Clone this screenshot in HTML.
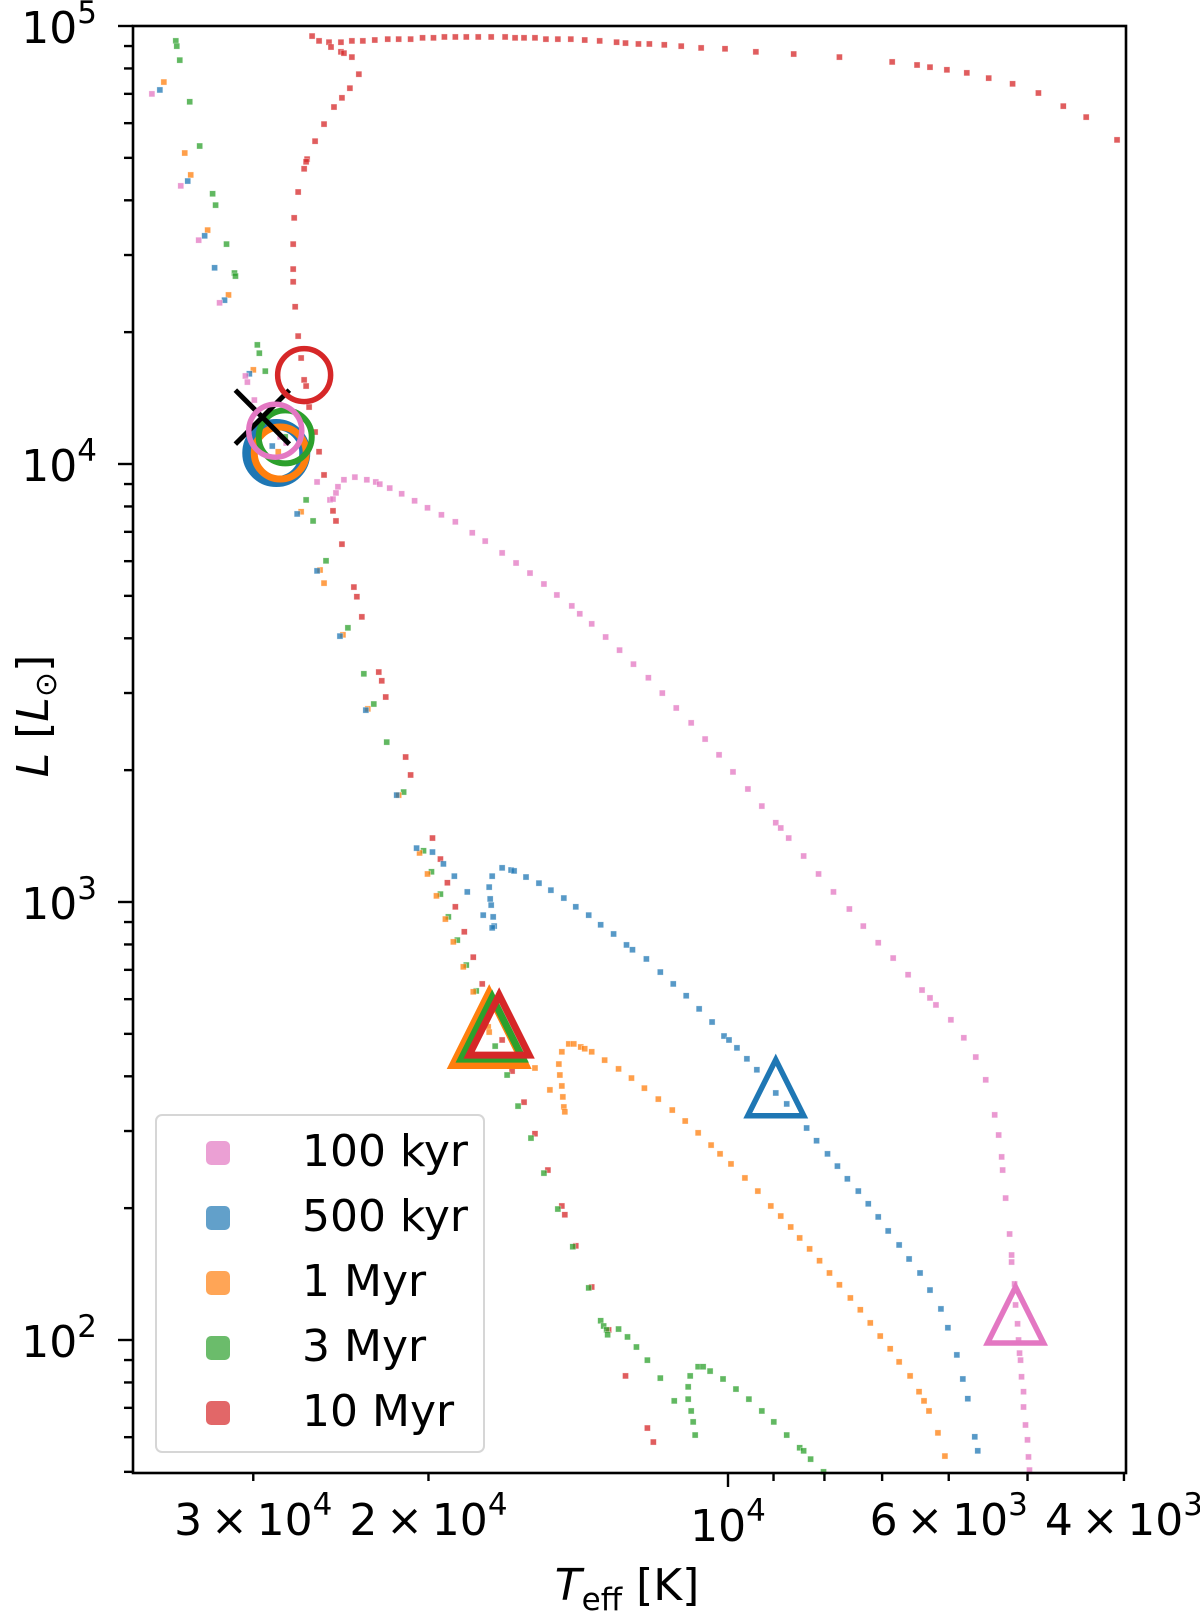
<!DOCTYPE html>
<html><head><meta charset="utf-8"><title>HR diagram</title>
<style>
html,body{margin:0;padding:0;background:#fff;}
svg{display:block;font-family:"DejaVu Sans","Liberation Sans",sans-serif;}
</style></head>
<body>
<svg id="chart" width="1200" height="1613" viewBox="0 0 1200 1613" xmlns="http://www.w3.org/2000/svg">
  <rect x="0" y="0" width="1200" height="1613" fill="#fff"/>
  <g id="tracks"></g>
  <g id="markers"></g>
  <g id="axes"></g>
  <g id="legend"></g>
</svg>
<script>
// ---- data: log10(Teff/K), log10(L/Lsun) per age ----
const ages = ["100 kyr","500 kyr","1 Myr","3 Myr","10 Myr"];
const colors = ["#e377c2","#1f77b4","#ff7f0e","#2ca02c","#d62728"];

const pinkLogT = [4.579,4.550,4.532,4.511,4.485,4.483,4.476,4.450,4.444,4.413,4.400,4.397,4.394,4.392,4.386,4.375,4.363,4.354,4.350,4.340,4.328,4.315,4.302,4.288,4.274,4.257,4.244,4.227,4.213,4.199,4.185,4.172,4.157,4.149,4.137,4.123,4.109,4.095,4.080,4.066,4.052,4.037,4.023,4.009,3.995,3.980,3.966,3.952,3.947,3.939,3.924,3.909,3.894,3.878,3.864,3.849,3.834,3.819,3.805,3.797,3.791,3.776,3.763,3.751,3.741,3.732,3.728,3.725,3.724,3.721,3.717,3.715,3.715,3.712,3.711,3.709,3.708,3.707,3.706,3.705,3.703,3.703,3.701,3.699,3.698,3.697];
const pinkLogL = [4.845,4.635,4.511,4.368,4.201,4.187,4.146,4.062,4.048,3.959,3.918,3.920,3.934,3.948,3.964,3.970,3.964,3.959,3.954,3.945,3.932,3.916,3.900,3.884,3.868,3.843,3.824,3.797,3.774,3.751,3.726,3.701,3.676,3.658,3.635,3.605,3.575,3.543,3.512,3.477,3.443,3.409,3.372,3.336,3.297,3.258,3.219,3.181,3.169,3.146,3.105,3.064,3.023,2.984,2.945,2.907,2.872,2.834,2.799,2.781,2.765,2.731,2.690,2.646,2.594,2.514,2.468,2.418,2.388,2.324,2.242,2.194,2.178,2.128,2.080,2.037,2.000,1.970,1.954,1.916,1.882,1.847,1.806,1.772,1.733,1.703];

const blueLogT = [4.571,4.543,4.526,4.516,4.506,4.481,4.458,4.433,4.413,4.390,4.364,4.333,4.313,4.297,4.286,4.275,4.262,4.246,4.236,4.235,4.237,4.238,4.239,4.240,4.237,4.227,4.218,4.215,4.203,4.190,4.178,4.165,4.153,4.140,4.128,4.115,4.102,4.096,4.082,4.068,4.055,4.042,4.029,4.016,4.004,3.999,3.991,3.981,3.971,3.952,3.941,3.921,3.911,3.900,3.890,3.880,3.869,3.859,3.849,3.839,3.828,3.818,3.807,3.797,3.786,3.779,3.770,3.764,3.759,3.752,3.749];
const blueLogL = [4.854,4.646,4.521,4.448,4.374,4.206,4.041,3.886,3.756,3.607,3.438,3.244,3.123,3.114,3.087,3.059,3.023,2.970,2.966,2.945,2.941,2.993,3.007,3.034,3.059,3.078,3.073,3.071,3.057,3.043,3.027,3.009,2.989,2.970,2.948,2.927,2.902,2.891,2.870,2.840,2.813,2.786,2.756,2.726,2.694,2.685,2.667,2.642,2.617,2.564,2.539,2.484,2.455,2.425,2.397,2.368,2.340,2.311,2.281,2.249,2.217,2.185,2.153,2.114,2.071,2.028,1.966,1.911,1.866,1.779,1.747];

const orangeLogT = [4.567,4.546,4.540,4.523,4.502,4.477,4.452,4.429,4.410,4.406,4.387,4.362,4.331,4.310,4.302,4.293,4.284,4.276,4.266,4.256,4.241,4.240,4.194,4.167,4.170,4.169,4.167,4.179,4.166,4.165,4.164,4.160,4.155,4.148,4.144,4.137,4.124,4.110,4.097,4.084,4.070,4.056,4.043,4.030,4.017,4.008,3.997,3.983,3.970,3.957,3.947,3.937,3.928,3.918,3.908,3.898,3.888,3.877,3.867,3.857,3.847,3.837,3.828,3.817,3.808,3.803,3.798,3.789,3.782];
const orangeLogL = [4.872,4.710,4.660,4.534,4.386,4.215,4.028,3.891,3.758,3.728,3.610,3.441,3.244,3.112,3.064,3.014,2.961,2.909,2.852,2.795,2.715,2.703,2.621,2.658,2.630,2.605,2.580,2.571,2.555,2.532,2.521,2.676,2.676,2.669,2.665,2.658,2.639,2.619,2.598,2.575,2.550,2.525,2.500,2.473,2.445,2.425,2.402,2.370,2.340,2.306,2.283,2.258,2.233,2.208,2.181,2.153,2.126,2.096,2.069,2.039,2.009,1.980,1.950,1.918,1.882,1.861,1.838,1.788,1.735];

const greenLogT = [4.555,4.554,4.551,4.541,4.531,4.518,4.515,4.504,4.496,4.495,4.473,4.471,4.465,4.445,4.424,4.417,4.404,4.382,4.366,4.356,4.343,4.326,4.306,4.298,4.289,4.281,4.272,4.263,4.253,4.234,4.222,4.211,4.198,4.185,4.171,4.156,4.140,4.128,4.125,4.122,4.121,4.110,4.101,4.092,4.081,4.068,4.054,4.040,4.040,4.037,4.035,4.033,4.038,4.030,4.025,4.018,4.005,3.992,3.979,3.966,3.954,3.941,3.928,3.924,3.917,3.904];
const greenLogL = [4.966,4.954,4.922,4.827,4.726,4.617,4.591,4.502,4.436,4.429,4.272,4.253,4.212,4.062,3.918,3.870,3.779,3.626,3.521,3.452,3.365,3.251,3.117,3.069,3.018,2.966,2.913,2.856,2.797,2.671,2.605,2.534,2.461,2.381,2.299,2.213,2.119,2.044,2.032,2.023,2.012,2.025,2.007,1.984,1.954,1.913,1.861,1.893,1.865,1.838,1.813,1.783,1.918,1.939,1.939,1.929,1.911,1.888,1.865,1.838,1.813,1.783,1.754,1.747,1.728,1.699];

const redLogT = [4.418,4.411,4.401,4.399,4.389,4.389,4.386,4.378,4.367,4.355,4.342,4.331,4.319,4.307,4.296,4.285,4.274,4.263,4.251,4.238,4.224,4.214,4.205,4.194,4.183,4.171,4.158,4.144,4.129,4.112,4.103,4.090,4.079,4.064,4.047,4.027,4.003,3.972,3.934,3.888,3.835,3.810,3.797,3.780,3.760,3.738,3.714,3.688,3.663,3.640,3.609,4.378,4.371,4.380,4.388,4.396,4.406,4.415,4.423,4.424,4.426,4.432,4.436,4.437,4.437,4.437,4.435,4.432,4.429,4.426,4.424,4.421,4.415,4.411,4.406,4.397,4.394,4.388,4.376,4.373,4.368,4.351,4.348,4.344,4.324,4.319,4.297,4.289,4.282,4.274,4.265,4.256,4.247,4.227,4.217,4.205,4.194,4.181,4.167,4.164,4.153,4.137,4.120,4.103,4.081,4.075];
const redLogL = [4.977,4.966,4.963,4.952,4.963,4.941,4.938,4.966,4.966,4.968,4.970,4.970,4.970,4.973,4.973,4.975,4.975,4.975,4.975,4.975,4.975,4.973,4.973,4.973,4.970,4.970,4.970,4.968,4.966,4.963,4.961,4.959,4.959,4.957,4.954,4.950,4.948,4.941,4.936,4.929,4.918,4.911,4.906,4.900,4.893,4.881,4.868,4.847,4.817,4.792,4.740,4.929,4.890,4.858,4.836,4.815,4.776,4.737,4.696,4.690,4.674,4.621,4.562,4.502,4.445,4.416,4.359,4.292,4.242,4.192,4.178,4.130,4.073,4.028,3.975,3.893,3.870,3.817,3.719,3.697,3.651,3.525,3.505,3.468,3.331,3.290,3.146,3.098,3.044,2.989,2.932,2.874,2.813,2.685,2.614,2.543,2.471,2.388,2.306,2.286,2.215,2.121,2.023,1.918,1.799,1.767];

// highlighted positions (circles = start, triangles = end, X = reference star)
const circleLogT = [4.455,4.454,4.450,4.445,4.426];
const circleLogL = [4.076,4.025,4.025,4.062,4.203];
const triLogT = [3.711,3.952,4.240,4.237,4.230];
const triLogL = [2.057,2.576,2.710,2.712,2.719];
const starLogT = [4.468];
const starLogL = [4.107];

const yTickExp = [2,3,4,5];
const xTickVals = [30000,20000,10000,6000,4000];
const xTickMant = ["3","2","","6","4"];
const xTickExp = ["4","4","4","3","3"];
const xMinorVals = [9000,8000,7000,5000];

// ---- scales ----
const X0=133, X1=1126, Y0=26, Y1=1473;
function xs(logT){ return 728 + (4 - logT)*995; }
function ys(logL){ return 26 + (5 - logL)*438; }
const NS="http://www.w3.org/2000/svg";
function mk(tag, attrs, parent){ const e=document.createElementNS(NS,tag); for(const k in attrs) e.setAttribute(k,attrs[k]); parent.appendChild(e); return e; }

const tracks=document.getElementById('tracks');
const seriesT=[pinkLogT,blueLogT,orangeLogT,greenLogT,redLogT];
const seriesL=[pinkLogL,blueLogL,orangeLogL,greenLogL,redLogL];
const seriesNames=["track-100kyr","track-500kyr","track-1myr","track-3myr","track-10myr"];
const drawOrder=[4,3,2,1,0];
drawOrder.forEach(function(s){
  const g=mk('g',{},tracks);
  
  
  const T=seriesT[s], L=seriesL[s];
  for(let i=0;i<T.length;i++){
    const px=xs(T[i]), py=ys(L[i]);
    if(px<X0||px>X1||py<Y0||py>Y1) continue;
    const r=mk('rect',{x:px-3,y:py-3,width:6,height:6,fill:colors[s],'fill-opacity':0.75,stroke:'#fff','stroke-width':0.6,'stroke-opacity':0.6},g);
    
    
  }
});

const markers=document.getElementById('markers');
const circR=[26.5,28.5,26,26.5,26.5];
const circW=[5.5,11,7,6,5.5];
const circNames=["start-circle-100kyr","start-circle-500kyr","start-circle-1myr","start-circle-3myr","start-circle-10myr"];
[1,2,3].forEach(function(i){
  const c=mk('circle',{cx:xs(circleLogT[i]),cy:ys(circleLogL[i]),r:circR[i],fill:'none',stroke:colors[i],'stroke-width':circW[i]},markers);
  
  
});
const sx=xs(starLogT[0]), sy=ys(starLogL[0]), sh=27;
const star=mk('path',{d:'M'+(sx-sh)+' '+(sy-sh)+' L'+(sx+sh)+' '+(sy+sh)+' M'+(sx+sh)+' '+(sy-sh)+' L'+(sx-sh)+' '+(sy+sh),stroke:'#000','stroke-width':5,fill:'none'},markers);


[0,4].forEach(function(i){
  const c=mk('circle',{cx:xs(circleLogT[i]),cy:ys(circleLogL[i]),r:circR[i],fill:'none',stroke:colors[i],'stroke-width':circW[i]},markers);
  
  
});
const triH=[28,28,36,31,30];
const triW=[5.5,5.5,8,7,7];
const triNames=["end-triangle-100kyr","end-triangle-500kyr","end-triangle-1myr","end-triangle-3myr","end-triangle-10myr"];
[0,1,2,3,4].forEach(function(i){
  const cx=xs(triLogT[i]), cy=ys(triLogL[i]), h=triH[i];
  const p=mk('polygon',{points:cx+','+(cy-h)+' '+(cx-h)+','+(cy+h)+' '+(cx+h)+','+(cy+h),fill:'none',stroke:colors[i],'stroke-width':triW[i],'stroke-linejoin':'miter'},markers);
  
  
});

// ---- axes ----
const axes=document.getElementById('axes');
const frame=mk('rect',{x:X0,y:Y0,width:X1-X0,height:Y1-Y0,fill:'none',stroke:'#000','stroke-width':2.6},axes);


for(let e=1;e<=5;e++){
  for(let m=1;m<=9;m++){
    const lv=e+Math.log10(m); const py=ys(lv);
    if(py<Y0-0.5||py>Y1) continue;
    const len=(m===1)?15:9;
    const t=mk('line',{x1:X0-len,y1:py,x2:X0,y2:py,stroke:'#000','stroke-width':2.4},axes);
    
    
  }
}
yTickExp.forEach(function(e){
  const py=ys(e);
  const t=mk('text',{x:97,y:py+17,'text-anchor':'end','font-size':44,fill:'#000'},axes);
  
  
  const a=mk('tspan',{},t); a.textContent='10';
  const b=mk('tspan',{dy:-20,'font-size':31},t); b.textContent=String(e);
});
xTickVals.forEach(function(v,i){
  const px=xs(Math.log10(v));
  const major=(v===10000);
  const len=major?14:8;
  const t=mk('line',{x1:px,y1:Y1,x2:px,y2:Y1+len,stroke:'#000','stroke-width':2.4},axes);
  
  
  const lab=mk('text',{x:px,y:major?1541:1535,'text-anchor':'middle','font-size':44,fill:'#000'},axes);
  
  
  const a=mk('tspan',{},lab); a.textContent=xTickMant[i]?(xTickMant[i]+'\u2009\u00d7\u200910'):'10';
  const b=mk('tspan',{dy:-20,'font-size':31},lab); b.textContent=xTickExp[i];
});
xMinorVals.forEach(function(v){
  const px=xs(Math.log10(v));
  const t=mk('line',{x1:px,y1:Y1,x2:px,y2:Y1+8,stroke:'#000','stroke-width':2.4},axes);
  
  
});
const xt=mk('text',{x:627,y:1600,'text-anchor':'middle','font-size':44,fill:'#000'},axes);


const x1=mk('tspan',{'font-style':'italic'},xt); x1.textContent='T';
const x2=mk('tspan',{'font-size':31,dy:10},xt); x2.textContent='eff';
const x3=mk('tspan',{dy:-10},xt); x3.textContent=' [K]';
const yt=mk('text',{x:0,y:0,'text-anchor':'middle','font-size':44,fill:'#000',transform:'translate(48,716) rotate(-90)'},axes);


const y1=mk('tspan',{'font-style':'italic'},yt); y1.textContent='L';
const y2=mk('tspan',{},yt); y2.textContent=' [';
const y3=mk('tspan',{'font-style':'italic'},yt); y3.textContent='L';
const y4=mk('tspan',{'font-size':30,dy:8},yt); y4.textContent='\u2299';
const y5=mk('tspan',{dy:-8},yt); y5.textContent=']';

// ---- legend ----
const leg=document.getElementById('legend');
const lbox=mk('rect',{x:156,y:1115,width:328,height:337,rx:6,fill:'#fff','fill-opacity':0.85,stroke:'#d6d6d6','stroke-width':2},leg);


ages.forEach(function(a,i){
  const cy=1153+i*65;
  const g=mk('g',{},leg);
  
  
  const m=mk('rect',{x:206,y:cy-12,width:24,height:24,rx:5,fill:colors[i],'fill-opacity':0.7},g);
  
  
  const t=mk('text',{x:302,y:cy+13,'font-size':44,fill:'#000'},g);
  
  
  t.textContent=a;
});
</script>
</body></html>
